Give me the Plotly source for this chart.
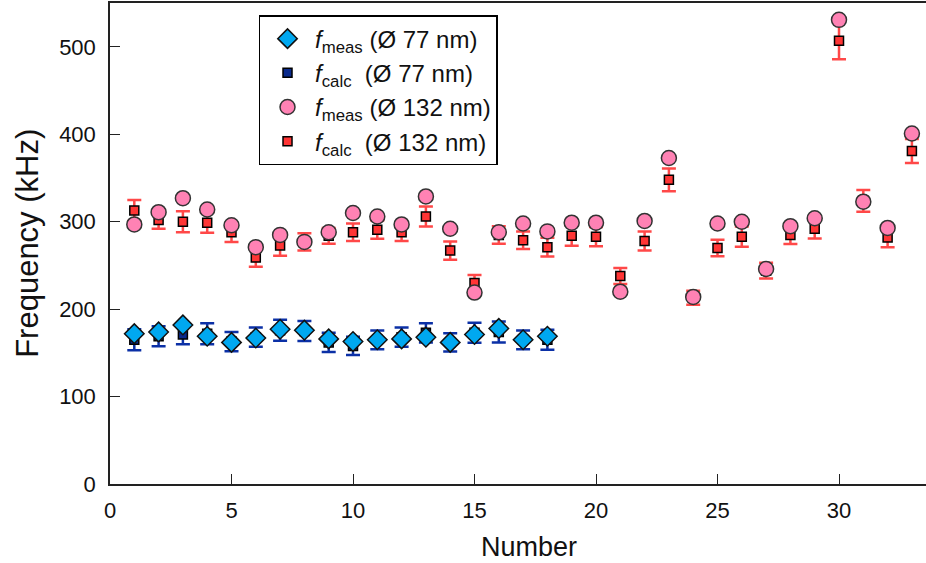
import plotly.graph_objects as go

# ---- data ----
num_77 = list(range(1, 19))
fmeas_77 = [172, 174, 182, 169, 162, 167, 177, 176, 166, 163, 165, 166, 168, 162, 171, 178, 165, 169]
fcalc_77 = [165, 169, 171, 172, 163, 168, 176, 175, 162, 158, 165, 168, 173, 162, 173, 174, 165, 165]
err_77 = [12, 11.5, 11, 12, 11, 11, 12, 11.5, 11, 10.5, 10.7, 11, 11, 10.5, 11.5, 12, 10.7, 11.5]

num_132 = list(range(1, 34))
fmeas_132 = [297, 311, 327, 314, 296, 271, 285, 277, 288, 310, 306, 297, 329, 292, 219, 288, 298, 289,
             299, 299, 220, 301, 373, 214, 298, 300, 246, 295, 304, 531, 323, 293, 401]
fcalc_132 = [313, 302, 300, 299, 288, 259, 273, 277, 284, 288, 291, 288, 306, 267, 230, 285, 279, 271,
             284, 283, 238, 278, 348, 213, 270, 283, 244, 285, 292, 507, 324, 282, 381]
err_132 = [12, 10, 12, 11.5, 11, 10.5, 12, 10, 9, 10, 10.5, 10, 11.5, 10.5, 9, 10, 10, 10.8,
           11.4, 11, 9.2, 11, 13, 8, 9.5, 11.5, 9, 10.4, 11, 21, 12.5, 11, 13.7]

x_ticks = [0, 5, 10, 15, 20, 25, 30]
y_ticks = [0, 100, 200, 300, 400, 500]

legend_names = ["<i>f</i><sub>meas</sub> (Ø 77 nm)", "<i>f</i><sub>calc</sub>  (Ø 77 nm)",
                "<i>f</i><sub>meas</sub> (Ø 132 nm)", "<i>f</i><sub>calc</sub>  (Ø 132 nm)"]
x_title = "Number"
y_title = "Frequency (kHz)"

fig = go.Figure()

fig.add_trace(go.Scatter(
    x=num_77, y=fcalc_77, mode="markers", name=legend_names[1], legendrank=2,
    marker=dict(symbol="square", size=9, color="#0a2a8c", line=dict(color="#000", width=1.5)),
    error_y=dict(type="data", array=err_77, visible=True, color="#0b30a6", thickness=2.5, width=7)))
fig.add_trace(go.Scatter(
    x=num_77, y=fmeas_77, mode="markers", name=legend_names[0], legendrank=1,
    marker=dict(symbol="diamond", size=15, color="#00a8f0", line=dict(color="#111", width=1.5))))
fig.add_trace(go.Scatter(
    x=num_132, y=fcalc_132, mode="markers", name=legend_names[3], legendrank=4,
    marker=dict(symbol="square", size=9, color="#ff3535", line=dict(color="#000", width=1.5)),
    error_y=dict(type="data", array=err_132, visible=True, color="#ff4848", thickness=2.5, width=7)))
fig.add_trace(go.Scatter(
    x=num_132, y=fmeas_132, mode="markers", name=legend_names[2], legendrank=3,
    marker=dict(symbol="circle", size=15, color="#ff82b4", line=dict(color="#333", width=1.5))))

font = "Liberation Sans, Arial, sans-serif"
fig.update_layout(
    width=926, height=563,
    margin=dict(l=110, r=0, t=3, b=79),
    paper_bgcolor="white", plot_bgcolor="white",
    font=dict(family=font, size=22, color="#111"),
    showlegend=True,
    legend=dict(x=0.182, y=0.975, xanchor="left", yanchor="top",
                bgcolor="white", bordercolor="#000", borderwidth=1.5,
                font=dict(size=24, family=font), tracegroupgap=0,
                itemsizing="trace", itemwidth=45),
    xaxis=dict(range=[0, 33.58], tickvals=x_ticks,
               showline=True, linecolor="#222", linewidth=1.5, mirror=True,
               ticks="inside", ticklen=10, tickwidth=1.2, tickcolor="#222",
               showgrid=False, zeroline=False,
               tickfont=dict(size=22), ticklabelstandoff=6),
    yaxis=dict(range=[0, 550.3], tickvals=y_ticks,
               showline=True, linecolor="#222", linewidth=1.5, mirror=False,
               ticks="inside", ticklen=10, tickwidth=1.2, tickcolor="#222",
               showgrid=False, zeroline=False,
               tickfont=dict(size=22), ticklabelstandoff=8),
    yaxis2=dict(range=[0, 550.3], tickvals=y_ticks, overlaying="y", side="right", anchor="x",
                showline=False, showticklabels=False, showgrid=False, zeroline=False,
                ticks="inside", ticklen=5, tickwidth=1.2, tickcolor="#222"),
    annotations=[
        dict(text=x_title, xref="paper", yref="paper", x=0.5135, y=-0.131,
             xanchor="center", yanchor="middle", showarrow=False, font=dict(size=27)),
        dict(text=y_title, xref="paper", yref="paper", x=-0.1013, y=0.5,
             xanchor="center", yanchor="middle", textangle=-90, showarrow=False,
             font=dict(size=31)),
    ],
)

fig.write_html("out.html")
